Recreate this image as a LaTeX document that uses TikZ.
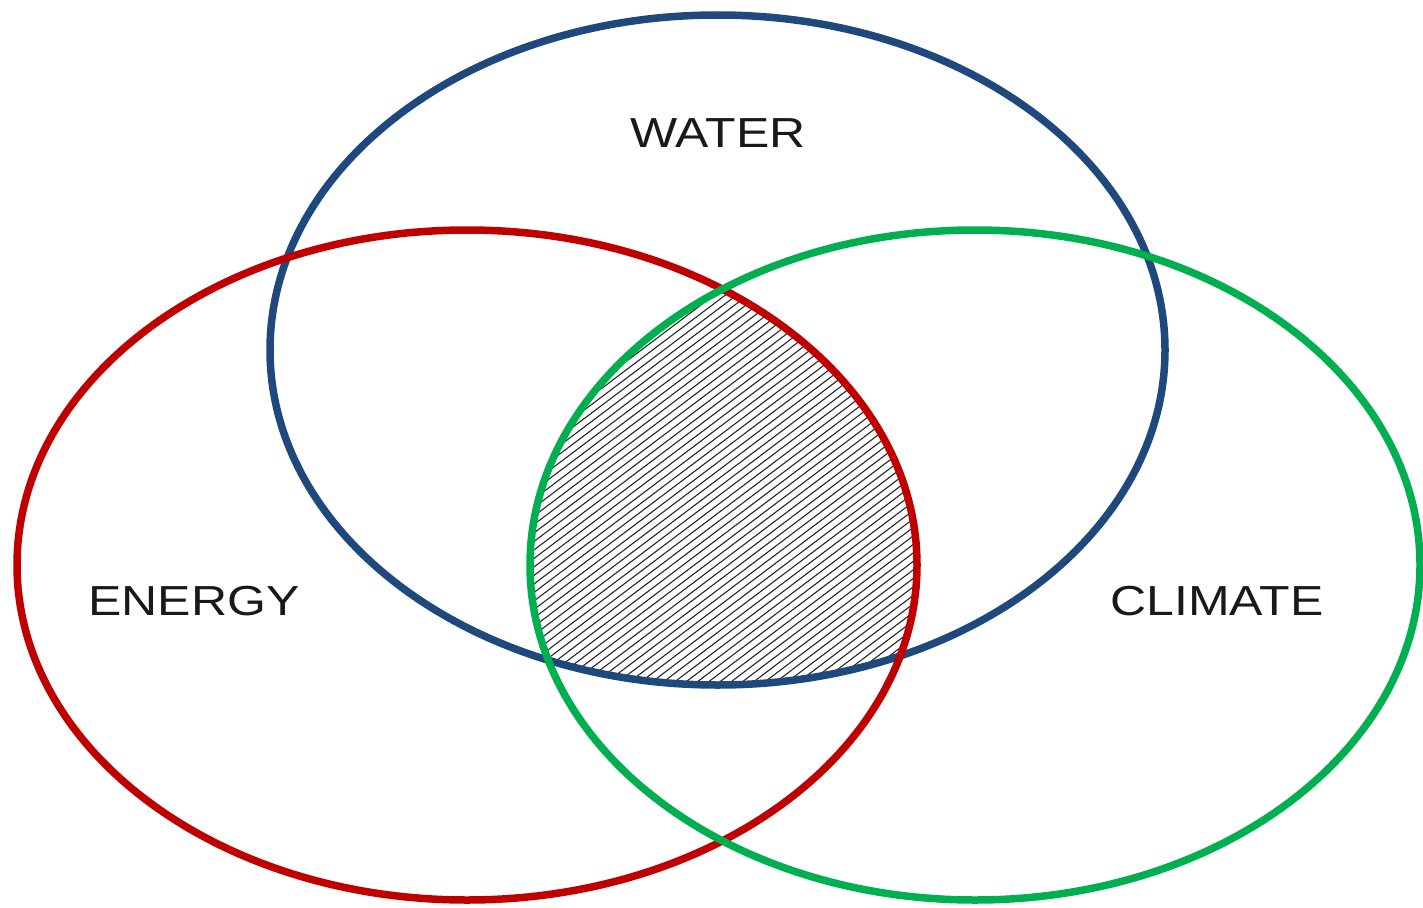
\documentclass[tikz,border=0pt]{standalone}
\usepackage{fontspec}
\setmainfont{Liberation Sans}
\definecolor{wblue}{HTML}{1F497D}
\definecolor{ered}{HTML}{C00000}
\definecolor{cgreen}{HTML}{00B050}
\begin{document}
\begin{tikzpicture}[x=1pt,y=-1pt,
  ring/.style={line width=7.5pt},
  lbl/.style={font=\fontsize{42}{50}\selectfont, inner sep=0pt, text=black!90},
  hatch/.style={line width=1.1pt, black!85}]
\useasboundingbox (0,0) rectangle (1423,907);
\begin{scope}
  \clip (717.5,350) ellipse [x radius=447.5, y radius=335];
  \clip (467,565) ellipse [x radius=450, y radius=335];
  \clip (975,565) ellipse [x radius=445, y radius=335];
  \foreach \y in {280,288.5,...,1010} {
    \draw[hatch] (520,\y) -- (935,\y-313);
  }
\end{scope}
\draw[ring, wblue] (717.5,350) ellipse [x radius=447.5, y radius=335];
\draw[ring, ered] (467,565) ellipse [x radius=450, y radius=335];
\draw[ring, cgreen] (975,565) ellipse [x radius=445, y radius=335];
\node[lbl] (water) at (718,133) {\scalebox{1.19}[1]{WATER}};
\node[lbl] (energy) at (194,601) {\scalebox{1.19}[1]{ENERGY}};
\node[lbl] (climate) at (1217,601) {\scalebox{1.19}[1]{CLIMATE}};
\end{tikzpicture}
\end{document}
